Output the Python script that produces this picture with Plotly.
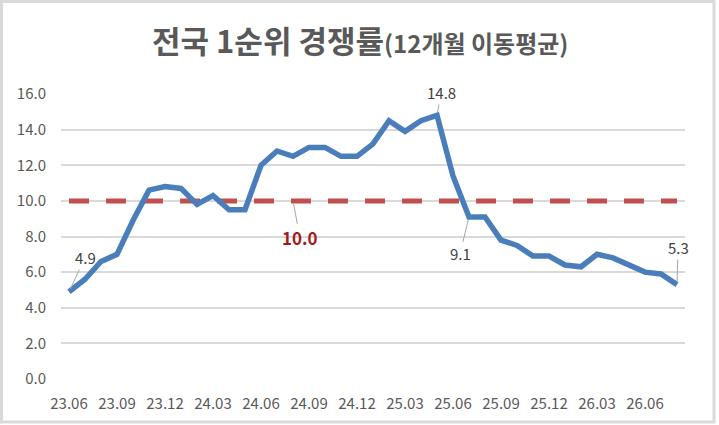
import plotly.graph_objects as go

# monthly 12-month moving average of first-priority competition ratio
months = ["23.06", "23.07", "23.08", "23.09", "23.10", "23.11", "23.12",
          "24.01", "24.02", "24.03", "24.04", "24.05", "24.06", "24.07",
          "24.08", "24.09", "24.10", "24.11", "24.12", "25.01", "25.02",
          "25.03", "25.04", "25.05", "25.06", "25.07", "25.08", "25.09",
          "25.10", "25.11", "25.12", "26.01", "26.02", "26.03", "26.04",
          "26.05", "26.06", "26.07", "26.08"]
ratio = [4.9, 5.6, 6.6, 7.0, 8.9, 10.6, 10.8,
         10.7, 9.8, 10.3, 9.5, 9.5, 12.0, 12.8,
         12.5, 13.0, 13.0, 12.5, 12.5, 13.2, 14.5,
         13.9, 14.5, 14.8, 11.4, 9.1, 9.1, 7.8,
         7.5, 6.9, 6.9, 6.4, 6.3, 7.0, 6.8,
         6.4, 6.0, 5.9, 5.3]
ref_value = 10.0
tick_months = months[::3]
yticks = [0, 2, 4, 6, 8, 10, 12, 14, 16]

# which points get a value label: (index, x offset px, y offset px)
labelled = [(0, 16, -34), (23, 4, -23), (25, -9, 37), (38, 1, -37)]
ref_label_idx = 14

FONT = "Noto Sans CJK KR"
GRAY = "#595959"

fig = go.Figure()

fig.add_trace(go.Scatter(
    x=months, y=[ref_value] * len(months), mode="lines",
    line=dict(color="#c0504d", width=5, dash="20px,17px"),
    hoverinfo="skip"))

fig.add_trace(go.Scatter(
    x=months, y=ratio, mode="lines",
    line=dict(color="#4a7ebb", width=5.5),
    hoverinfo="x+y"))

# annotations on a category axis take the category index
for i, ax, ay in labelled:
    fig.add_annotation(x=i, y=ratio[i], text=f"{ratio[i]:.1f}",
                       showarrow=True, arrowhead=0, arrowwidth=1,
                       arrowcolor="#a6a6a6", ax=ax, ay=ay, standoff=3,
                       font=dict(family=FONT, size=15, color="#404040"))

fig.add_annotation(x=ref_label_idx, y=ref_value,
                   text=f"<b>{ref_value:.1f}</b>",
                   showarrow=True, arrowhead=0, arrowwidth=1,
                   arrowcolor="#a6a6a6", ax=7, ay=37, standoff=3,
                   font=dict(family=FONT, size=17, color="#a31a1a"))

fig.add_annotation(
    xref="paper", yref="paper", x=0.479, y=1.19,
    xanchor="center", yanchor="middle", showarrow=False,
    text="<b>전국 1순위 경쟁률</b><b><span style='font-size:24px'>(12개월 이동평균)</span></b>",
    font=dict(family=FONT, size=31, color=GRAY))

# outer chart frame
fig.add_shape(type="rect", xref="paper", yref="paper",
              x0=-0.0954, x1=1.0465, y0=-0.1509, y1=1.3246,
              line=dict(color="#d9d9d9", width=3))

fig.update_layout(
    width=719, height=425,
    margin=dict(l=61, r=34, t=94, b=46),
    paper_bgcolor="white", plot_bgcolor="white",
    showlegend=False,
    font=dict(family=FONT, size=15, color=GRAY),
    xaxis=dict(type="category", tickmode="array", tickvals=tick_months,
               ticktext=tick_months, showgrid=False, showline=False,
               ticks="", ticklabelstandoff=14,
               range=[-0.5, len(months) - 0.5],
               tickfont=dict(size=15, color=GRAY)),
    yaxis=dict(range=[0, 16], tickvals=yticks,
               ticktext=[f"{v:.1f}" for v in yticks],
               showgrid=True, gridcolor="#d9d9d9", gridwidth=1.5,
               zeroline=False, showline=False, ticks="",
               ticklabelstandoff=14,
               tickfont=dict(size=15, color=GRAY)),
)

fig.write_html("out.html", config={"displayModeBar": False},
               post_script="document.body.style.margin='0';")
